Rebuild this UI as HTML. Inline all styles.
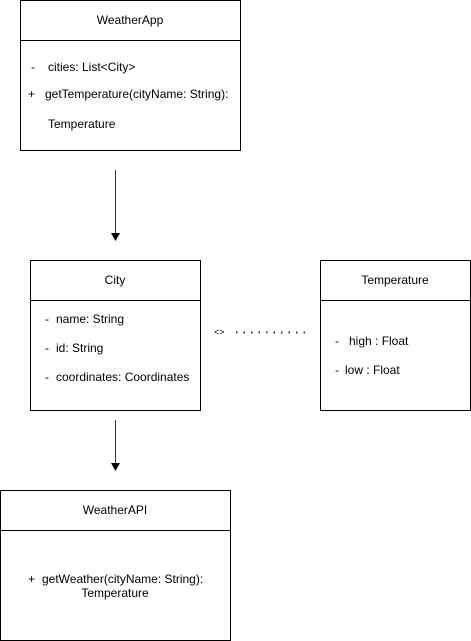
<!DOCTYPE html>
<html><head><meta charset="utf-8"><style>
html,body{margin:0;padding:0;background:#fff;}
svg{display:block;}
text{font-family:"Liberation Sans",Arial,sans-serif;font-size:12px;fill:#000;}
</style></head><body>
<svg width="471" height="641" viewBox="0 0 471 641" xmlns="http://www.w3.org/2000/svg">
<g fill="none" stroke="#000" stroke-width="1">
<rect x="20.5" y="0.5" width="220" height="150"/>
<line x1="20.5" y1="40.5" x2="240.5" y2="40.5"/>
<rect x="30.5" y="260.5" width="170" height="150"/>
<line x1="30.5" y1="300.5" x2="200.5" y2="300.5"/>
<rect x="320.5" y="260.5" width="150" height="150"/>
<line x1="320.5" y1="300.5" x2="470.5" y2="300.5"/>
<rect x="0.5" y="490.5" width="230" height="150"/>
<line x1="0.5" y1="530.5" x2="230.5" y2="530.5"/>
<line x1="115.5" y1="170" x2="115.5" y2="235" stroke="#333"/>
<line x1="115.5" y1="420" x2="115.5" y2="465" stroke="#333"/>
<line x1="236" y1="332.5" x2="310" y2="332.5" stroke="#333" stroke-width="2" stroke-dasharray="1.5,6"/>
</g>
<polygon points="111,233 120,233 115.5,241" fill="#000"/>
<polygon points="111,463 120,463 115.5,471" fill="#000"/>
<text x="130" y="24" text-anchor="middle">WeatherApp</text>
<text x="31" y="71">-</text><text x="48" y="71">cities: List&lt;City&gt;</text>
<text x="28" y="98">+</text><text x="45" y="98">getTemperature(cityName: String):</text>
<text x="48" y="128">Temperature</text>
<text x="115" y="284" text-anchor="middle">City</text>
<text x="45" y="323">-</text><text x="56" y="323">name: String</text>
<text x="45" y="352">-</text><text x="56" y="352">id: String</text>
<text x="45" y="381">-</text><text x="56" y="381">coordinates: Coordinates</text>
<text x="395" y="284" text-anchor="middle">Temperature</text>
<text x="335" y="345">-</text><text x="349" y="345">high : Float</text>
<text x="335" y="374">-</text><text x="345" y="374">low : Float</text>
<text x="214" y="335" style="font-size:9px">&lt;&gt;</text>
<text x="115" y="514" text-anchor="middle">WeatherAPI</text>
<text x="28" y="583">+</text><text x="42" y="583">getWeather(cityName: String):</text>
<text x="115" y="597" text-anchor="middle">Temperature</text>
</svg>
</body></html>
